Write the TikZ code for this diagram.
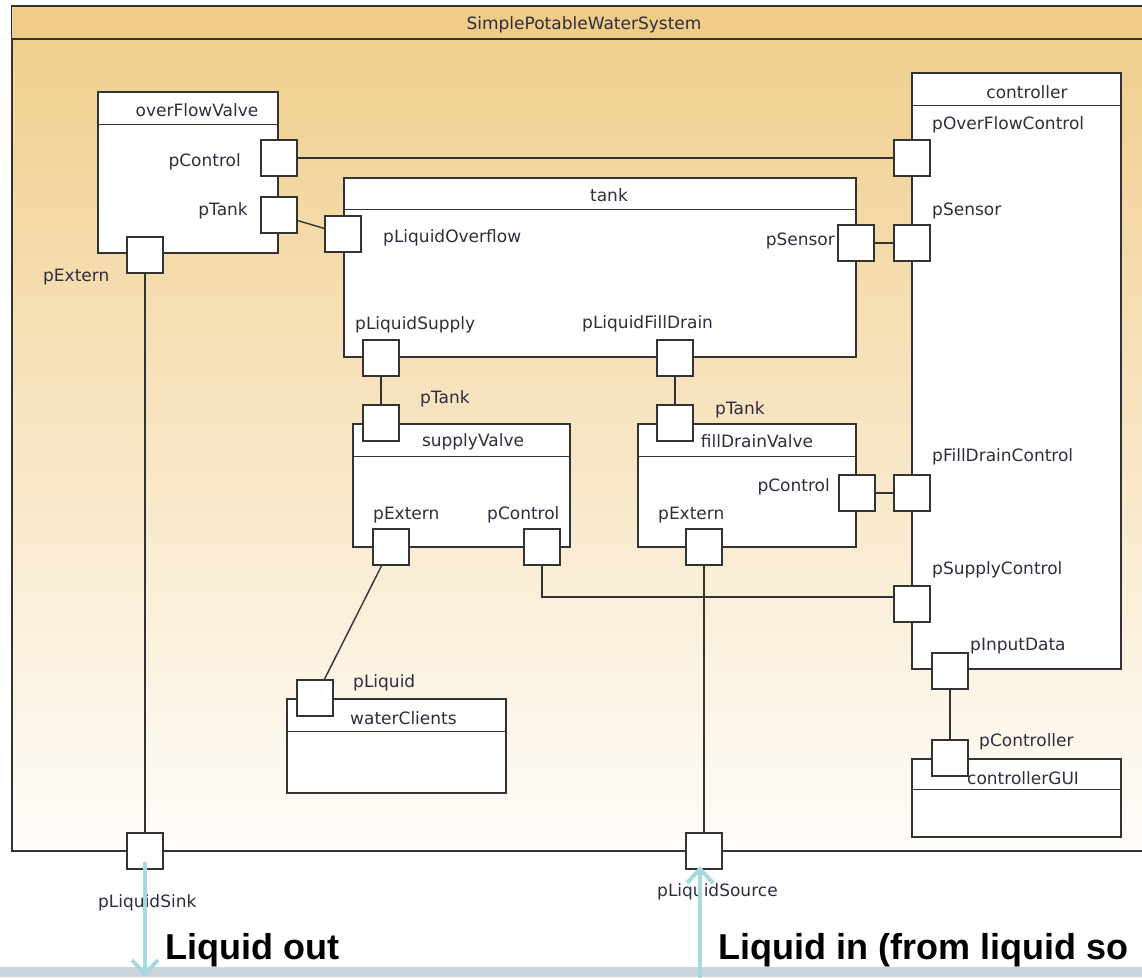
\documentclass[tikz,border=0pt]{standalone}
\usepackage{fontspec}
\setmainfont{DejaVu Sans}
\newfontfamily\calloutfont{Liberation Sans}
\usetikzlibrary{arrows.meta}

\definecolor{frameline}{HTML}{333333}
\definecolor{headband}{HTML}{EFCC87}
\definecolor{bodytop}{HTML}{F0CD8A}
\definecolor{bodybot}{HTML}{FFFDFA}
\definecolor{umltext}{HTML}{2E2E40}
\definecolor{flowblue}{HTML}{A8D9DE}
\definecolor{slideband}{HTML}{CBD5DE}

\begin{document}
\begin{tikzpicture}[
  x=1pt, y=-1pt,
  part/.style={draw=frameline, fill=white, line width=1.4pt, inner sep=0pt},
  port/.style={draw=frameline, fill=white, line width=1.4pt, minimum size=36pt, inner sep=0pt},
  lbl/.style={font=\fontsize{17}{20}\selectfont, text=umltext, inner sep=0pt},
  wire/.style={line width=1.4pt, draw=frameline},
  flow/.style={line width=4pt, draw=flowblue, -{Straight Barb[length=14pt,width=26pt]}},
  callout/.style={font=\calloutfont\bfseries\fontsize{36}{40}\selectfont, inner sep=0pt}
]
\clip (0,0) rectangle (1142,977);
\fill[white] (0,0) rectangle (1142,977);

% Outer block: the system
\node[draw=frameline, line width=1.6pt, top color=bodytop, bottom color=bodybot,
      minimum width=1148pt, minimum height=844pt, inner sep=0pt] (system) at (586,429) {};
\fill[headband] ([shift={(0.8pt,-0.8pt)}]system.north west) rectangle ([yshift=-33pt]system.north east);
\draw[line width=1.6pt, frameline] (system.north west) -- (system.north east);
\draw[line width=1.6pt, frameline] ([yshift=-33pt]system.north west) -- ([yshift=-33pt]system.north east);
\node[lbl] (systitle) at (584,25) {SimplePotableWaterSystem};

% Parts
\node[part, minimum width=180pt, minimum height=161pt] (ofv) at (188,172.5) {};
\node[part, minimum width=512pt, minimum height=179pt] (tank) at (600,267.5) {};
\node[part, minimum width=217pt, minimum height=123pt] (sv) at (461.5,485.5) {};
\node[part, minimum width=218pt, minimum height=123pt] (fdv) at (747,485.5) {};
\node[part, minimum width=209pt, minimum height=596pt] (ctl) at (1016.5,371) {};
\node[part, minimum width=219pt, minimum height=94pt] (wc) at (396.5,746) {};
\node[part, minimum width=209pt, minimum height=78pt] (gui) at (1016.5,798) {};

\draw[wire] ([yshift=-33pt]ofv.north west) -- ([yshift=-33pt]ofv.north east);
\draw[wire] ([yshift=-32pt]tank.north west) -- ([yshift=-32pt]tank.north east);
\draw[wire] ([yshift=-33pt]sv.north west) -- ([yshift=-33pt]sv.north east);
\draw[wire] ([yshift=-33pt]fdv.north west) -- ([yshift=-33pt]fdv.north east);
\draw[wire] ([yshift=-33pt]ctl.north west) -- ([yshift=-33pt]ctl.north east);
\draw[wire] ([yshift=-33pt]wc.north west) -- ([yshift=-33pt]wc.north east);
\draw[wire] ([yshift=-31pt]gui.north west) -- ([yshift=-31pt]gui.north east);

% Part names
\node[lbl] (ofvname) at (197,110) {overFlowValve};
\node[lbl] (tankname) at (609,195) {tank};
\node[lbl] (svname) at (473,442) {supplyValve};
\node[lbl] (fdvname) at (757,441) {fillDrainValve};
\node[lbl] (ctlname) at (1027,92) {controller};
\node[lbl, anchor=west] (wcname) at (350,718) {waterClients};
\node[lbl, anchor=west] (guiname) at (967,778) {controllerGUI};

% Port names
\node[lbl, anchor=east] at (241,162) {pControl};
\node[lbl, anchor=east] at (248,211) {pTank};
\node[lbl, anchor=west] at (43,277) {pExtern};
\node[lbl, anchor=west] at (383,238) {pLiquidOverflow};
\node[lbl, anchor=east] at (835,241) {pSensor};
\node[lbl, anchor=west] at (355,325) {pLiquidSupply};
\node[lbl, anchor=west] at (582,324) {pLiquidFillDrain};
\node[lbl, anchor=west] at (420,399) {pTank};
\node[lbl, anchor=west] at (373,515) {pExtern};
\node[lbl, anchor=west] at (487,515) {pControl};
\node[lbl, anchor=west] at (715,410) {pTank};
\node[lbl, anchor=east] at (830,487) {pControl};
\node[lbl, anchor=west] at (658,515) {pExtern};
\node[lbl, anchor=west] at (932,125) {pOverFlowControl};
\node[lbl, anchor=west] at (932,211) {pSensor};
\node[lbl, anchor=west] at (932,457) {pFillDrainControl};
\node[lbl, anchor=west] at (932,570) {pSupplyControl};
\node[lbl, anchor=west] at (970,646) {pInputData};
\node[lbl, anchor=west] at (979,742) {pController};
\node[lbl, anchor=west] at (353,683) {pLiquid};
\node[lbl, anchor=west] at (98,903) {pLiquidSink};
\node[lbl, anchor=west] at (657,892) {pLiquidSource};

% Ports
\node[port] (ofvctl) at (279,158) {};
\node[port] (ofvtank) at (279,215) {};
\node[port] (ofvext) at (145,255) {};
\node[port] (tankovf) at (343,234) {};
\node[port] (tanksen) at (856,243) {};
\node[port] (tanksup) at (381,358) {};
\node[port] (tankfd) at (675,358) {};
\node[port] (svtank) at (381,423) {};
\node[port] (svext) at (391,547) {};
\node[port] (svctl) at (542,547) {};
\node[port] (fdvtank) at (675,423) {};
\node[port] (fdvctl) at (857,493) {};
\node[port] (fdvext) at (704,547) {};
\node[port] (ctlovf) at (912,158) {};
\node[port] (ctlsen) at (912,243) {};
\node[port] (ctlfd) at (912,493) {};
\node[port] (ctlsup) at (912,604) {};
\node[port] (ctlin) at (950,671) {};
\node[port] (guictl) at (950,758) {};
\node[port] (wcliq) at (315,698) {};
\node[port] (sink) at (145,851) {};
\node[port] (source) at (704,851) {};

% Connectors
\draw[wire] (ofvctl) -- (ctlovf);
\draw[wire] (ofvtank) -- (tankovf);
\draw[wire] (tanksen) -- (ctlsen);
\draw[wire] (tanksup) -- (svtank);
\draw[wire] (tankfd) -- (fdvtank);
\draw[wire] (fdvctl) -- (ctlfd);
\draw[wire] (svctl) |- ([yshift=7pt]ctlsup.west);
\draw[wire] (svext) -- (wcliq);
\draw[wire] (ofvext) -- (sink);
\draw[wire] (fdvext) -- (source);
\draw[wire] (ctlin) -- (guictl);

% Slide strip and flow arrows
\fill[slideband] (0,967) rectangle (1142,977);
\coordinate (outEnd) at (145,977);
\coordinate (inStart) at (700,980);
\draw[flow] ([yshift=-11pt]sink.center) -- (outEnd);
\draw[flow] (inStart) -- ([xshift=-4pt,yshift=-15pt]source.center);
\node[callout, anchor=base west] (outText) at (165,959) {Liquid out};
\node[callout, anchor=base west] (inText) at (718,959) {Liquid in (from liquid so};
\end{tikzpicture}
\end{document}
